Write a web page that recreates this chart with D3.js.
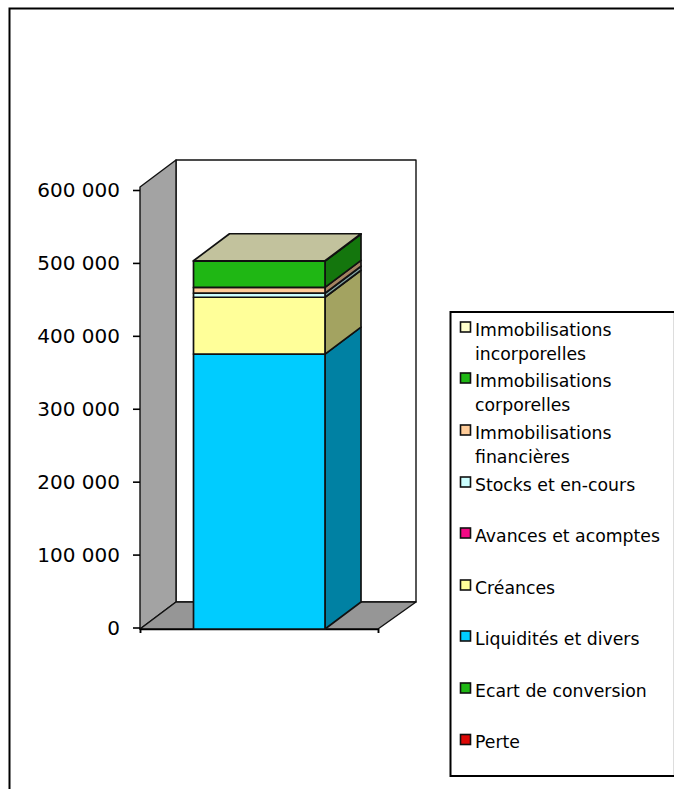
<!DOCTYPE html>
<html><head><meta charset="utf-8">
<script src="https://cdn.jsdelivr.net/npm/d3@7"></script>
<style>html,body{margin:0;padding:0;background:#fff}svg{display:block}</style>
</head><body><svg id="c" width="674" height="789"></svg>
<script>
const tickValues = [0,100000,200000,300000,400000,500000,600000];
const tickLabels = ["0","100 000","200 000","300 000","400 000","500 000","600 000"];
const seriesNames = ["Perte","Ecart de conversion","Liquidités et divers","Créances","Avances et acomptes","Stocks et en-cours","Immobilisations financières","Immobilisations corporelles","Immobilisations incorporelles"];
const seriesValues = [0,0,377000,78000,0,5500,8000,36000,500];
const seriesColors = ["#dd0806","#1fb714","#00ccff","#ffff99","#f20884","#ccffff","#ffcc99","#1fb714","#ffffcc"];
const sideColors = ["#8a0403","#14760d","#0081a3","#a3a361","#9a0554","#82a3a3","#a38261","#14760d","#a3a382"];
const legendRows = [
 {i:8,lines:["Immobilisations","incorporelles"],y:327},
 {i:7,lines:["Immobilisations","corporelles"],y:378},
 {i:6,lines:["Immobilisations","financières"],y:430},
 {i:5,lines:["Stocks et en-cours"],y:482},
 {i:4,lines:["Avances et acomptes"],y:533},
 {i:3,lines:["Créances"],y:585},
 {i:2,lines:["Liquidités et divers"],y:636},
 {i:1,lines:["Ecart de conversion"],y:688},
 {i:0,lines:["Perte"],y:739.5}];
(function(){
const FONT='"DejaVu Sans", sans-serif';
const svg=d3.select("#c");
const DX=36,DY=-27;
const y=d3.scaleLinear().domain([0,600000]).range([627.5,190]);
const FLOOR=629;
const by=v=>y(v)+(FLOOR-y(0));
const x0=140,x1=378, barL=193.5, barR=325;
const ink="#111";
const poly=(pts,fill,sw=1.7,st=ink)=>svg.append("polygon").attr("points",pts.map(p=>p.join(",")).join(" ")).attr("fill",fill).attr("stroke",st).attr("stroke-width",sw).attr("stroke-linejoin","round");
svg.append("path").attr("d","M9.5,789V8.5H674").attr("fill","none").attr("stroke","#000").attr("stroke-width",2);
const wallTop=187;
poly([[x0+DX,FLOOR+DY],[x0+DX,160],[416,160],[416,FLOOR+DY]],"#fff",1.4);
poly([[x0,FLOOR],[x0,wallTop],[x0+DX,160],[x0+DX,FLOOR+DY]],"#a3a3a3",1.4);
poly([[x0,FLOOR],[x1,FLOOR],[416,FLOOR+DY],[x0+DX,FLOOR+DY]],"#969696",1.4);
const axis=d3.axisLeft(y).tickValues(tickValues).tickFormat((d,i)=>tickLabels[i]).tickSize(7);
const ga=svg.append("g").attr("transform",`translate(${x0},0)`).call(axis);
ga.select(".domain").remove();
ga.selectAll("line").attr("stroke","#000").attr("stroke-width",1.6);
ga.selectAll("text").attr("font-family",FONT).attr("font-size",20).attr("fill","#000").attr("x",-20).attr("dy","0.33em");
const xs=d3.scaleLinear().domain([0,1]).range([x0,x1]);
const gx=svg.append("g").attr("transform",`translate(0,${FLOOR})`).call(d3.axisBottom(xs).tickValues([0,1]).tickFormat("").tickSize(4));
gx.select(".domain").attr("stroke","#000").attr("stroke-width",1.5);
gx.selectAll("line").attr("stroke","#000").attr("stroke-width",1.5);
let c=0;
const stacks=seriesValues.map((v,i)=>{const s={i,v,a:c,b:c+v};c+=v;return s;}).filter(s=>s.v>0);
stacks.forEach(s=>{
  const ya=by(s.a),yb=by(s.b);
  poly([[barR,ya],[barR+DX,ya+DY],[barR+DX,yb+DY],[barR,yb]],sideColors[s.i]);
  poly([[barL,ya],[barR,ya],[barR,yb],[barL,yb]],seriesColors[s.i]);
});
const t=by(c);
poly([[barL,t],[barL+DX,t+DY],[barR+DX,t+DY],[barR,t]],"#c2c29d");
svg.append("rect").attr("x",450.5).attr("y",312).attr("width",224).attr("height",464).attr("fill","#fff");
svg.append("line").attr("x1",673.5).attr("x2",673.5).attr("y1",312).attr("y2",776).attr("stroke","#ddd");
svg.append("path").attr("d","M674,312H450.5V776H674").attr("fill","none").attr("stroke","#000").attr("stroke-width",2);
legendRows.forEach(l=>{
  svg.append("rect").attr("x",460.5).attr("y",l.y-5).attr("width",10).attr("height",10).attr("fill",seriesColors[l.i]).attr("stroke","#111").attr("stroke-width",1.6);
  l.lines.forEach((s,k)=>svg.append("text").attr("x",475).attr("y",l.y+8.5+k*24).attr("font-family",FONT).attr("font-size",17.3).attr("fill","#000").text(s));
});
})();
</script></body></html>
